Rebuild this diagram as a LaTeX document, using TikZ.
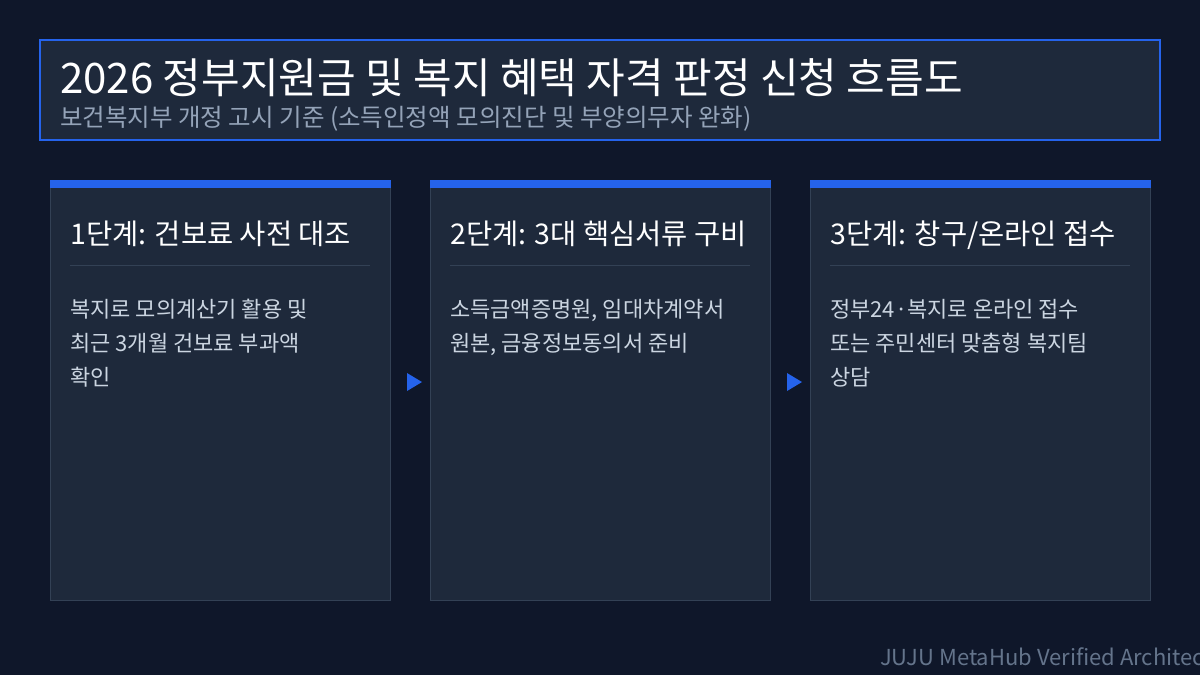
\documentclass[tikz,border=0pt]{standalone}
\usepackage{fontspec}
\setmainfont{Noto Sans CJK KR}
\usetikzlibrary{positioning}
\usepackage{xcolor}
\definecolor{pageBg}{HTML}{0F172A}
\definecolor{cardBg}{HTML}{1E293B}
\definecolor{cardLine}{HTML}{334155}
\definecolor{accent}{HTML}{2563EB}
\definecolor{subGray}{HTML}{94A3B8}
\definecolor{bodyGray}{HTML}{CBD5E1}
\definecolor{footGray}{HTML}{64748B}

\begin{document}
\begin{tikzpicture}[x=1pt, y=-1pt, every node/.style={inner sep=0pt},
    card/.style={draw=cardLine, line width=1pt, fill=cardBg, minimum width=340pt, minimum height=420pt},
    heading/.style={anchor=base west, text=white, font=\fontsize{28.5}{32}\selectfont},
    body/.style={anchor=north west, text=bodyGray, align=left, font=\fontsize{22}{34}\selectfont, execute at begin node={\strut}},
    flowarrow/.style={fill=accent}]
        \useasboundingbox (0,0) rectangle (1200,675);
        \clip (0,0) rectangle (1200,675);
        \fill[pageBg] (0,0) rectangle (1200,675);

        % Header
        \node[draw=accent, line width=2pt, fill=cardBg, minimum width=1120pt, minimum height=100pt] (header) at (600,90) {};
        \node[anchor=base west, text=white, font=\fontsize{42}{46}\selectfont] (title) at (60,93) {2026 정부지원금 및 복지 혜택 자격 판정 신청 흐름도};
        \node[anchor=base west, text=subGray, font=\fontsize{24.5}{28}\selectfont] (subtitle) at (60,126) {보건복지부 개정 고시 기준 (소득인정액 모의진단 및 부양의무자 완화)};

        % Step 1
        \node[card] (card1) at (220,390) {};
        \fill[accent] (card1.north west) rectangle ([yshift=-8pt]card1.north east);
        \node[heading] (head1) at (70,244) {1단계: 건보료 사전 대조};
        \draw[cardLine] (70,265) -- (370,265);
        \node[body] (text1) at (70,299) {복지로 모의계산기 활용 및\\최근 3개월 건보료 부과액\\확인};

        % Step 2
        \node[card] (card2) at (600,390) {};
        \fill[accent] (card2.north west) rectangle ([yshift=-8pt]card2.north east);
        \node[heading] (head2) at (450,244) {2단계: 3대 핵심서류 구비};
        \draw[cardLine] (450,265) -- (750,265);
        \node[body] (text2) at (450,299) {소득금액증명원, 임대차계약서\\원본, 금융정보동의서 준비};

        % Step 3
        \node[card] (card3) at (980,390) {};
        \fill[accent] (card3.north west) rectangle ([yshift=-8pt]card3.north east);
        \node[heading] (head3) at (830,244) {3단계: 창구/온라인 접수};
        \draw[cardLine] (830,265) -- (1130,265);
        \node[body] (text3) at (830,299) {정부24·복지로 온라인 접수\\또는 주민센터 맞춤형 복지팀\\상담};

        % Arrows between steps
        \fill[flowarrow] (407,373) -- (422,382) -- (407,391) -- cycle;
        \fill[flowarrow] (787,373) -- (802,382) -- (787,391) -- cycle;

        % Footer
        \node[anchor=base west, text=footGray, font=\fontsize{22}{26}\selectfont] (footer) at (880,665) {JUJU MetaHub Verified Architect};
\end{tikzpicture}
\end{document}
